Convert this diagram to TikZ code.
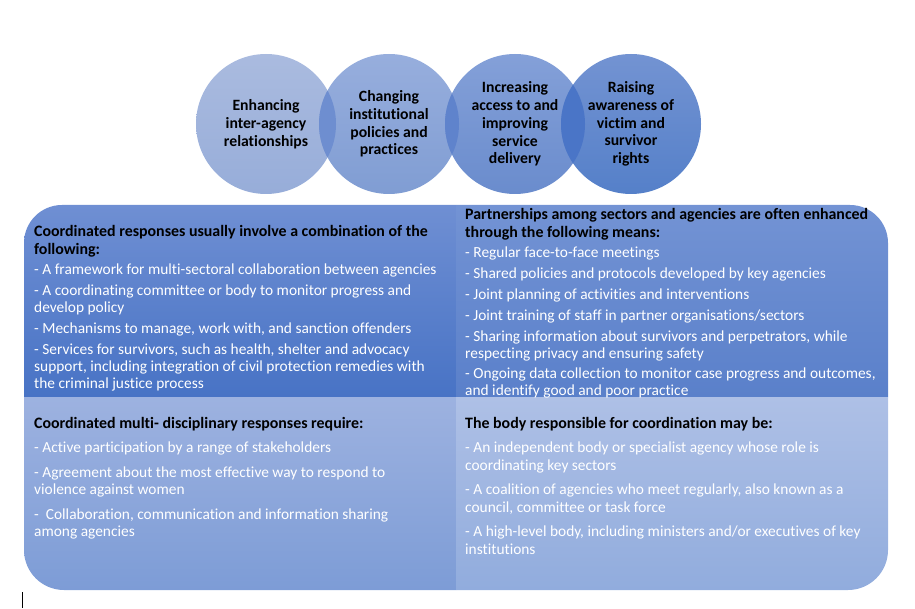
\documentclass[tikz,border=0pt]{standalone}
\usepackage{fontspec}
\setmainfont{Carlito}[Ligatures=NoCommon]
\usepackage{xcolor}
\definecolor{ringA}{HTML}{AABBDF}
\definecolor{ringAlow}{HTML}{97ADD9}
\definecolor{ringB}{HTML}{97AEDD}
\definecolor{ringBlow}{HTML}{809DD3}
\definecolor{ringC}{HTML}{84A0D8}
\definecolor{ringClow}{HTML}{6A8CCD}
\definecolor{ringD}{HTML}{7393D2}
\definecolor{ringDlow}{HTML}{5580C9}
\definecolor{lensAB}{HTML}{6E8ED0}
\definecolor{lensBC}{HTML}{5F83CC}
\definecolor{lensCD}{HTML}{4A75C7}
\definecolor{panelTL}{HTML}{6F8FD3}
\definecolor{panelTLlow}{HTML}{4873C5}
\definecolor{panelTR}{HTML}{7393D4}
\definecolor{panelTRlow}{HTML}{5A80CA}
\definecolor{panelBL}{HTML}{9DB2E0}
\definecolor{panelBLlow}{HTML}{7D9CD6}
\definecolor{panelBR}{HTML}{AEC0E6}
\definecolor{panelBRlow}{HTML}{91ACDD}
\newcommand{\hd}[1]{{\color{black}\bfseries\fontsize{15.9}{17}\selectfont #1}}

\begin{document}
\begin{tikzpicture}[x=1pt,y=-1pt,
  ring/.style={circle, minimum size=140pt, inner sep=0pt},
  ringtext/.style={align=center, text=black, font=\bfseries\fontsize{15.7}{17.8}\selectfont},
  blocktext/.style={anchor=north west, inner sep=0pt, align=left, text=white, font=\fontsize{15.4}{17}\selectfont},
  loosetext/.style={blocktext, font=\fontsize{15.4}{17.6}\selectfont}]
  \useasboundingbox (0,0) rectangle (915,609);

  \path[top color=panelTL, bottom color=panelTLlow] (24,397) [rounded corners=38pt] -- (24,205) [sharp corners] -- (456,205) -- (456,397) -- cycle;
  \path[top color=panelTR, bottom color=panelTRlow] (456,397) -- (456,205) [rounded corners=38pt] -- (888,205) [sharp corners] -- (888,397) -- cycle;
  \path[top color=panelBL, bottom color=panelBLlow] (24,397) [rounded corners=40pt] -- (24,590) [sharp corners] -- (456,590) -- (456,397) -- cycle;
  \path[top color=panelBR, bottom color=panelBRlow] (456,397) -- (456,590) [rounded corners=40pt] -- (888,590) [sharp corners] -- (888,397) -- cycle;

  \node[ring, top color=ringA, bottom color=ringAlow] (ring1) at (266,124) {};
  \node[ring, top color=ringB, bottom color=ringBlow] (ring2) at (389,124) {};
  \node[ring, top color=ringC, bottom color=ringClow] (ring3) at (515,124) {};
  \node[ring, top color=ringD, bottom color=ringDlow] (ring4) at (631,124) {};
  \begin{scope}
    \clip (ring1.center) circle (70pt);
    \fill[lensAB] (ring2.center) circle (70pt);
  \end{scope}
  \begin{scope}
    \clip (ring2.center) circle (70pt);
    \fill[lensBC] (ring3.center) circle (70pt);
  \end{scope}
  \begin{scope}
    \clip (ring3.center) circle (70pt);
    \fill[lensCD] (ring4.center) circle (70pt);
  \end{scope}

  \node[ringtext] (label1) at (ring1.center) {Enhancing\\inter-agency\\relationships};
  \node[ringtext] (label2) at (ring2.center) {Changing\\institutional\\policies and\\practices};
  \node[ringtext] (label3) at (ring3.center) {Increasing\\access to and\\improving\\service\\delivery};
  \node[ringtext] (label4) at (ring4.center) {Raising\\awareness of\\victim and\\survivor\\rights};

  \node[blocktext] (combo) at (34,225) {\hd{Coordinated responses usually involve a combination of the}\\[0.8pt]
    \hd{following:}\\[3.8pt]
    - A framework for multi-sectoral collaboration between agencies\\[3.8pt]
    - A coordinating committee or body to monitor progress and\\
    develop policy\\[3.8pt]
    - Mechanisms to manage, work with, and sanction offenders\\[3.8pt]
    - Services for survivors, such as health, shelter and advocacy\\
    support, including integration of civil protection remedies with\\
    the criminal justice process};
  \node[blocktext] (means) at (465,208) {\hd{Partnerships among sectors and agencies are often enhanced}\\[0.8pt]
    \hd{through the following means:}\\[3.8pt]
    - Regular face-to-face meetings\\[3.8pt]
    - Shared policies and protocols developed by key agencies\\[3.8pt]
    - Joint planning of activities and interventions\\[3.8pt]
    - Joint training of staff in partner organisations/sectors\\[3.8pt]
    - Sharing information about survivors and perpetrators, while\\
    respecting privacy and ensuring safety\\[3.8pt]
    - Ongoing data collection to monitor case progress and outcomes,\\
    and identify good and poor practice};
  \node[loosetext] (require) at (34,417) {\hd{Coordinated multi- disciplinary responses require:}\\[6.8pt]
    - Active participation by a range of stakeholders\\[6.8pt]
    - Agreement about the most effective way to respond to\\
    violence against women\\[6.8pt]
    -~ Collaboration, communication and information sharing\\
    among agencies};
  \node[loosetext] (body) at (465,417) {\hd{The body responsible for coordination may be:}\\[6.8pt]
    - An independent body or specialist agency whose role is\\
    coordinating key sectors\\[6.8pt]
    - A coalition of agencies who meet regularly, also known as a\\
    council, committee or task force\\[6.8pt]
    - A high-level body, including ministers and/or executives of key\\
    institutions};

  \draw[black, line width=0.8pt] (22,592) -- (22,608);
\end{tikzpicture}
\end{document}
